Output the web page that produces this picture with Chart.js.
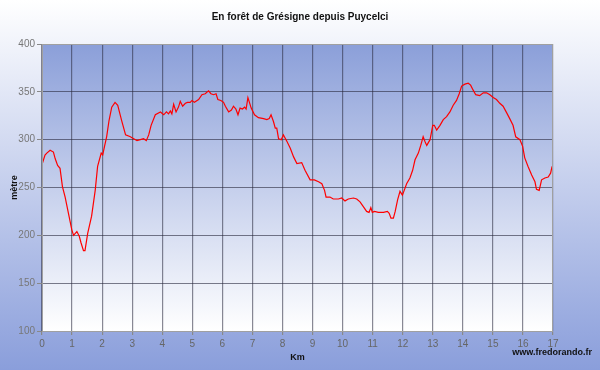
<!DOCTYPE html>
<html>
<head>
<meta charset="utf-8">
<script src="https://cdn.jsdelivr.net/npm/chart.js@4"></script>
<style>
  html, body { margin: 0; padding: 0; background: #fff; }
  #wrap { width: 600px; height: 370px; }
</style>
</head>
<body>
<div id="wrap"><canvas id="c" width="600" height="370"></canvas></div>
<script>
// profile: distance (km) and altitude (m)
const distances = [
  0, 0.1, 0.16, 0.27, 0.38, 0.44, 0.52, 0.6, 0.68, 0.77, 0.88, 0.99, 1.05, 1.16, 1.24, 1.3, 1.38, 1.43,
  1.52, 1.65, 1.77, 1.85, 1.97, 2.02, 2.08, 2.15, 2.23, 2.32, 2.43, 2.52, 2.65, 2.78,
  2.94, 3.05, 3.16, 3.27, 3.38, 3.47, 3.55, 3.63, 3.77, 3.94, 4.05, 4.14, 4.21, 4.27, 4.32, 4.38,
  4.46, 4.54, 4.6, 4.68, 4.77, 4.84, 4.93, 4.99, 5.07, 5.16, 5.21, 5.32, 5.43, 5.54, 5.62, 5.71,
  5.79, 5.85, 5.95, 6.04,
  6.1, 6.21, 6.3, 6.37, 6.45, 6.52, 6.59, 6.67, 6.74, 6.79, 6.85, 6.89, 6.96, 7.07, 7.2, 7.37, 7.48,
  7.56, 7.62, 7.7, 7.76, 7.81, 7.87, 7.96, 8.03, 8.15, 8.26, 8.37, 8.48, 8.64, 8.75, 8.92, 9.06,
  9.2, 9.31, 9.4,
  9.45, 9.58, 9.69, 9.86, 9.97, 10.08, 10.19, 10.36, 10.47, 10.58, 10.69, 10.8, 10.88, 10.94, 10.99,
  11.06, 11.19, 11.36, 11.49, 11.55, 11.61, 11.69, 11.75, 11.83, 11.91, 11.99, 12.05, 12.13,
  12.24, 12.33, 12.41, 12.52, 12.6, 12.68, 12.74, 12.8, 12.91, 13.0, 13.05, 13.13, 13.24, 13.35,
  13.46, 13.57, 13.68, 13.79, 13.88, 13.96, 14.07, 14.18, 14.26, 14.34, 14.43, 14.56, 14.68, 14.79,
  14.9, 15.01, 15.12, 15.23, 15.34, 15.46, 15.56, 15.67, 15.76, 15.9, 15.99, 16.06, 16.17, 16.29,
  16.4, 16.45, 16.54, 16.62, 16.73, 16.84, 16.92, 16.97
];
const altitudes = [
  274, 284, 286, 289, 287, 280, 273, 270, 251, 240, 223, 206, 200, 204, 199, 192, 184, 184,
  202, 220, 247, 272, 286, 284, 293, 303, 320, 334, 339, 336, 320, 305,
  303, 301, 299, 300, 301, 299, 305, 315, 326, 329, 326, 329, 327, 330, 327, 337,
  329, 334, 340, 335, 338, 339, 339, 341, 339, 341, 342, 347, 348, 351, 348, 347,
  348, 342, 341, 339,
  335, 329, 331, 335, 332, 326, 333, 332, 334, 332, 344, 340, 333, 326, 323, 322, 321,
  322, 326, 319, 312, 312, 301, 300, 305, 298, 291, 282, 275, 276, 268, 258, 258,
  256, 254, 247,
  240, 240, 238, 238, 239, 236, 238, 239, 238, 235, 230, 225, 224, 229, 224,
  225, 224, 224, 225, 223, 218, 218, 225, 237, 246, 242, 247, 254,
  260, 268, 279, 286, 294, 303, 298, 294, 300, 315, 315, 310, 315, 321,
  324, 329, 336, 341, 348, 356, 358, 359, 357, 352, 347, 346, 349, 349,
  347, 344, 342, 338, 335, 328, 322, 315, 303, 300, 293, 281, 272, 263,
  256, 248, 247, 258, 260, 261, 265, 272
];

const xTicks = [0, 1, 2, 3, 4, 5, 6, 7, 8, 9, 10, 11, 12, 13, 14, 15, 16, 17];
const yTicks = [100, 150, 200, 250, 300, 350, 400];

const chartTitle = 'En forêt de Grésigne depuis Puycelci';
const siteText = 'www.fredorando.fr';

const points = distances.map((d, i) => ({ x: d, y: altitudes[i] }));

// backgrounds + title + site text
const decor = {
  id: 'decor',
  beforeDraw(chart) {
    const { ctx, width, height, chartArea: a } = chart;
    ctx.save();
    let g = ctx.createLinearGradient(0, 0, 0, height);
    g.addColorStop(0, '#ffffff');
    g.addColorStop(1, '#8a9edb');
    ctx.fillStyle = g;
    ctx.fillRect(0, 0, width, height);

    g = ctx.createLinearGradient(0, a.top, 0, a.bottom);
    g.addColorStop(0, '#8b9fd9');
    g.addColorStop(1, '#ffffff');
    ctx.fillStyle = g;
    ctx.fillRect(a.left, a.top, a.right - a.left, a.bottom - a.top);
    ctx.restore();
  },
  afterDraw(chart) {
    const { ctx, chartArea: a } = chart;
    ctx.save();
    ctx.strokeStyle = '#a0a0a0';
    ctx.lineWidth = 1;
    ctx.strokeRect(a.left + 0.5, a.top + 0.5, a.right - a.left - 1, a.bottom - a.top);
    ctx.fillStyle = '#111';
    ctx.font = 'bold 10px "Liberation Sans", Arial, sans-serif';
    ctx.textAlign = 'center';
    ctx.textBaseline = 'middle';
    ctx.fillText(chartTitle, 300, 17);
    ctx.font = 'bold 9px "Liberation Sans", Arial, sans-serif';
    ctx.textAlign = 'right';
    ctx.fillText(siteText, 592, 353);
    ctx.restore();
  }
};

new Chart(document.getElementById('c'), {
  type: 'line',
  data: {
    datasets: [{
      data: points,
      borderColor: '#ff0000',
      borderWidth: 1.2,
      pointRadius: 0,
      tension: 0,
      fill: false
    }]
  },
  options: {
    responsive: false,
    animation: false,
    layout: { padding: { top: 44, right: 47, left: 0, bottom: 0 } },
    plugins: {
      legend: { display: false },
      tooltip: { enabled: false },
      title: { display: false }
    },
    scales: {
      x: {
        type: 'linear',
        min: 0,
        max: 17,
        afterFit: s => { s.height = 39; },
        afterBuildTicks: s => { s.ticks = xTicks.map(v => ({ value: v })); },
        grid: { color: 'rgba(40,40,60,0.55)', lineWidth: 1.2, tickLength: 4, tickColor: '#888' },
        border: { color: '#888' },
        ticks: { color: '#666', font: { family: '"Liberation Sans", Arial', size: 10 }, padding: 3, maxRotation: 0 },
        title: { display: true, text: 'Km', color: '#111', font: { family: '"Liberation Sans", Arial', size: 9, weight: 'bold' }, padding: { top: 0, bottom: 7 } }
      },
      y: {
        min: 100,
        max: 400,
        afterFit: s => { s.width = 42; },
        afterBuildTicks: s => { s.ticks = yTicks.map(v => ({ value: v })); },
        grid: { color: 'rgba(40,40,60,0.6)', lineWidth: 1, tickLength: 5, tickColor: '#888' },
        border: { color: '#888' },
        ticks: { color: '#777', font: { family: '"Liberation Sans", Arial', size: 10 }, padding: 2 },
        title: { display: true, text: 'mètre', color: '#111', font: { family: '"Liberation Sans", Arial', size: 9, weight: 'bold' }, padding: { top: 9, bottom: 0 } }
      }
    }
  },
  plugins: [decor]
});
</script>
</body>
</html>
